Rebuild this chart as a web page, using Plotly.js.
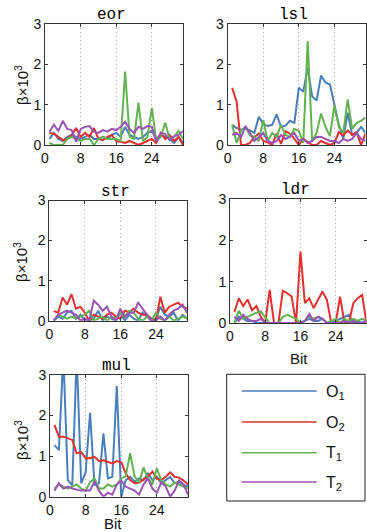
<!DOCTYPE html>
<html>
<head>
<meta charset="utf-8">
<script src="https://cdn.plot.ly/plotly-3.0.1.min.js"></script>
<style>html,body{margin:0;padding:0;background:#fff;}#chart{width:367px;height:532px;}</style>
</head>
<body>
<div id="chart"></div>
<script>
// ---------- data ----------
const bits = [1,2,3,4,5,6,7,8,9,10,11,12,13,14,15,16,17,18,19,20,21,22,23,24,25,26,27,28,29,30,31];
const xTickVals = [0, 8, 16, 24];
const xTickText = ["0", "8", "16", "24"];
const yTickVals = [0, 1, 2, 3];
const yTickText = ["0", "1", "2", "3"];
const panelNames = ["eor", "lsl", "str", "ldr", "mul"];
const seriesNames = ["O<sub>1</sub>", "O<sub>2</sub>", "T<sub>1</sub>", "T<sub>2</sub>"];
const seriesColors = ["#4a7ebb", "#e3302e", "#62b350", "#9a52b5"];

const eor_O1 = [0.15,0.3,0.15,0.1,0.2,0.25,0.2,0.15,0.2,0.25,0.15,0.15,0.2,0.15,0.25,0.3,0.2,0.45,0.25,0.2,0.15,0.2,0.3,0.35,0.15,0.25,0.2,0.15,0.05,0.2,0.05];
const eor_O2 = [0.3,0.28,0.2,0.12,0.15,0.25,0.42,0.2,0.3,0.2,0.42,0.15,0.12,0.2,0.25,0.1,0.08,0.05,0.1,0.05,0.0,0.05,0.1,0.15,0.05,0.3,0.15,0.25,0.1,0.2,0.0];
const eor_T1 = [0.05,0.0,0.0,0.0,0.15,0.2,0.15,0.1,0.15,0.15,0.0,0.15,0.2,0.15,0.15,0.15,0.1,1.82,0.2,0.15,1.05,0.1,0.2,0.92,0.1,0.2,0.55,0.15,0.2,0.35,0.15];
const eor_T2 = [0.33,0.5,0.35,0.6,0.4,0.37,0.08,0.4,0.45,0.47,0.33,0.3,0.37,0.33,0.4,0.37,0.45,0.58,0.4,0.3,0.45,0.4,0.47,0.45,0.08,0.3,0.27,0.12,0.22,0.25,0.35];

const lsl_O1 = [0.5,0.42,0.38,0.4,0.36,0.3,0.7,0.52,0.47,0.5,0.76,0.45,0.48,0.6,0.55,1.42,1.32,1.92,1.2,1.1,1.72,1.55,1.5,1.0,0.5,0.15,0.8,0.25,0.3,0.45,0.3];
const lsl_O2 = [1.42,1.08,0.0,0.0,0.05,0.2,0.28,0.1,0.07,0.0,0.28,0.03,0.34,0.28,0.15,0.0,0.15,0.07,0.0,0.0,0.1,0.05,0.0,0.05,0.32,0.24,0.36,0.25,0.32,0.0,0.28];
const lsl_T1 = [0.5,0.05,0.36,0.45,0.24,0.2,0.1,0.62,0.1,0.3,0.2,0.5,0.25,0.2,0.4,0.35,0.05,2.58,0.1,0.3,0.78,0.45,0.22,0.98,0.45,0.3,1.13,0.4,0.55,0.6,0.68];
const lsl_T2 = [0.25,0.3,0.2,0.47,0.3,0.1,0.2,0.3,0.1,0.05,0.1,0.25,0.15,0.2,0.3,0.1,0.15,0.05,0.1,0.2,0.2,0.15,0.1,0.1,0.05,0.15,0.1,0.15,0.3,0.15,0.1];

const str_O1 = [0.0,0.1,0.05,0.2,0.25,0.05,0.15,0.0,0.0,0.05,0.25,0.0,0.1,0.05,0.0,0.2,0.0,0.15,0.05,0.0,0.2,0.1,0.0,0.05,0.35,0.15,0.1,0.2,0.0,0.15,0.05];
const str_O2 = [0.24,0.2,0.58,0.4,0.66,0.3,0.35,0.2,0.0,0.15,0.1,0.05,0.15,0.2,0.1,0.05,0.25,0.22,0.3,0.2,0.15,0.15,0.05,0.0,0.6,0.2,0.35,0.4,0.45,0.35,0.3];
const str_T1 = [0.0,0.15,0.1,0.05,0.1,0.05,0.1,0.15,0.25,0.0,0.05,0.1,0.0,0.1,0.05,0.2,0.1,0.25,0.2,0.05,0.0,0.1,0.0,0.2,0.05,0.0,0.1,0.0,0.05,0.1,0.05];
const str_T2 = [0.0,0.15,0.2,0.25,0.2,0.15,0.0,0.05,0.0,0.5,0.4,0.25,0.35,0.1,0.0,0.3,0.1,0.2,0.2,0.45,0.3,0.15,0.0,0.0,0.1,0.0,0.15,0.25,0.3,0.4,0.2];

const ldr_O1 = [0.0,0.15,0.1,0.05,0.05,0.0,0.0,0.0,0.0,0.0,0.0,0.0,0.0,0.0,0.0,0.0,0.05,0.1,0.05,0.05,0.1,0.0,0.0,0.05,0.1,0.15,0.2,0.0,0.05,0.0,0.05];
const ldr_O2 = [0.27,0.6,0.41,0.57,0.31,0.41,0.15,0.0,0.8,0.0,0.0,0.78,0.72,0.64,0.0,1.73,0.48,0.6,0.36,0.56,0.76,0.56,0.0,0.0,0.64,0.0,0.0,0.48,0.6,0.68,0.0];
const ldr_T1 = [0.0,0.3,0.1,0.15,0.2,0.25,0.28,0.15,0.0,0.0,0.0,0.15,0.2,0.15,0.1,0.0,0.05,0.15,0.1,0.15,0.1,0.0,0.05,0.1,0.0,0.1,0.05,0.1,0.05,0.1,0.05];
const ldr_T2 = [0.15,0.05,0.2,0.1,0.05,0.05,0.1,0.0,0.0,0.0,0.0,0.0,0.0,0.0,0.0,0.0,0.05,0.22,0.05,0.15,0.1,0.0,0.0,0.0,0.0,0.05,0.0,0.05,0.0,0.0,0.05];

const mul_O1 = [1.27,1.15,3.5,0.41,0.28,3.5,0.33,0.6,2.07,0.29,0.33,1.56,0.45,0.49,2.73,0.0,0.41,0.49,0.37,0.45,0.41,0.57,0.41,0.49,0.33,0.41,0.49,0.33,0.37,0.29,0.25];
const mul_O2 = [1.77,1.48,1.48,1.44,1.4,1.07,1.1,0.95,0.95,0.98,0.88,0.9,0.86,0.82,0.88,0.85,0.58,0.41,0.33,0.35,0.42,0.5,0.62,0.45,0.41,0.49,0.6,0.49,0.47,0.4,0.3];
const mul_T1 = [0.2,0.3,0.25,0.2,0.25,0.3,0.2,0.15,0.35,0.45,0.2,0.2,0.3,0.25,0.3,0.45,0.5,1.07,0.5,0.35,0.72,0.45,0.3,0.7,0.4,0.3,0.25,0.35,0.3,0.25,0.2];
const mul_T2 = [0.15,0.33,0.2,0.25,0.2,0.18,0.15,0.15,0.15,0.38,0.15,0.0,0.1,0.05,0.3,0.4,0.25,0.2,0.15,0.05,0.3,0.45,0.2,0.1,0.35,0.25,0.0,0.15,0.4,0.3,0.05];

const panelSeries = [
  [eor_O1, eor_O2, eor_T1, eor_T2],
  [lsl_O1, lsl_O2, lsl_T1, lsl_T2],
  [str_O1, str_O2, str_T1, str_T2],
  [ldr_O1, ldr_O2, ldr_T1, ldr_T2],
  [mul_O1, mul_O2, mul_T1, mul_T2]
];

// ---------- layout helpers (pixel -> paper) ----------
const W = 367, H = 532;
const px = v => v / W;
const py = v => 1 - v / H;

// plot boxes in pixels: [left, right, top, bottom]
const boxes = [
  [45, 183, 24, 145],
  [227.7, 365.5, 24, 145],
  [49.3, 187, 200.5, 320.7],
  [230, 366.5, 199, 323],
  [50, 188, 375, 496.7]
];

const tickFont = {family: "Liberation Sans, Arial, sans-serif", size: 14, color: "#111"};
const traces = [];
const layout = {
  width: W, height: H,
  margin: {l: 0, r: 0, t: 0, b: 0},
  paper_bgcolor: "#fff", plot_bgcolor: "#fff",
  showlegend: false,
  annotations: [], shapes: []
};

boxes.forEach((b, i) => {
  const n = i === 0 ? "" : String(i + 1);
  layout["xaxis" + n] = {
    domain: [px(b[0]), px(b[1])], anchor: "y" + n,
    range: [0, 31], tickvals: xTickVals, ticktext: xTickText,
    showgrid: true, gridcolor: "#a8a8a8", griddash: "1px,3px", gridwidth: 1,
    zeroline: false, showline: true, linecolor: "#333", linewidth: 1,
    mirror: "ticks", ticks: "inside", ticklen: 3, tickcolor: "#333",
    tickfont: tickFont, fixedrange: true
  };
  layout["yaxis" + n] = {
    domain: [py(b[3]), py(b[2])], anchor: "x" + n,
    range: [0, 3], tickvals: yTickVals, ticktext: yTickText,
    showgrid: false, zeroline: false, showline: true, linecolor: "#333", linewidth: 1,
    mirror: "ticks", ticks: "inside", ticklen: 3, tickcolor: "#333",
    tickfont: tickFont, fixedrange: true
  };
  panelSeries[i].forEach((ys, k) => {
    traces.push({
      type: "scatter", mode: "lines", x: bits, y: ys,
      xaxis: "x" + n, yaxis: "y" + n,
      line: {color: seriesColors[k], width: 2},
      name: seriesNames[k], hoverinfo: "skip"
    });
  });
  // panel title
  layout.annotations.push({
    xref: "paper", yref: "paper", x: px((b[0] + b[1]) / 2 - 3), y: py(b[2] - 9),
    xanchor: "center", yanchor: "middle", showarrow: false,
    text: panelNames[i],
    font: {family: "Liberation Mono, Courier New, monospace", size: 16, color: "#000"}
  });
});

// y-axis titles (left column)
const yTitlePos = [[21, 85], [21, 262], [21, 440]];
yTitlePos.forEach(p => {
  layout.annotations.push({
    xref: "paper", yref: "paper", x: px(p[0]), y: py(p[1]),
    xanchor: "center", yanchor: "middle", showarrow: false, textangle: -90,
    text: "β×10<sup>3</sup>",
    font: {family: "Liberation Sans, Arial, sans-serif", size: 15, color: "#111"}
  });
});

// x-axis titles
[[299, 358], [113, 523]].forEach(p => {
  layout.annotations.push({
    xref: "paper", yref: "paper", x: px(p[0]), y: py(p[1]),
    xanchor: "center", yanchor: "middle", showarrow: false,
    text: "Bit",
    font: {family: "Liberation Sans, Arial, sans-serif", size: 15, color: "#111"}
  });
});

// legend box
layout.shapes.push({
  type: "rect", xref: "paper", yref: "paper",
  x0: px(226.7), x1: px(365), y0: py(501), y1: py(374.3),
  line: {color: "#222", width: 1}, fillcolor: "rgba(0,0,0,0)"
});
const legY = [391, 422, 452.7, 482];
seriesNames.forEach((name, k) => {
  layout.shapes.push({
    type: "line", xref: "paper", yref: "paper",
    x0: px(241.7), x1: px(316.7), y0: py(legY[k]), y1: py(legY[k]),
    line: {color: seriesColors[k], width: 1.5}
  });
  layout.annotations.push({
    xref: "paper", yref: "paper", x: px(324), y: py(legY[k] + 1),
    xanchor: "left", yanchor: "middle", showarrow: false,
    text: name,
    font: {family: "Liberation Sans, Arial, sans-serif", size: 16, color: "#111"}
  });
});

Plotly.newPlot("chart", traces, layout, {staticPlot: true, displayModeBar: false});
</script>
</body>
</html>
